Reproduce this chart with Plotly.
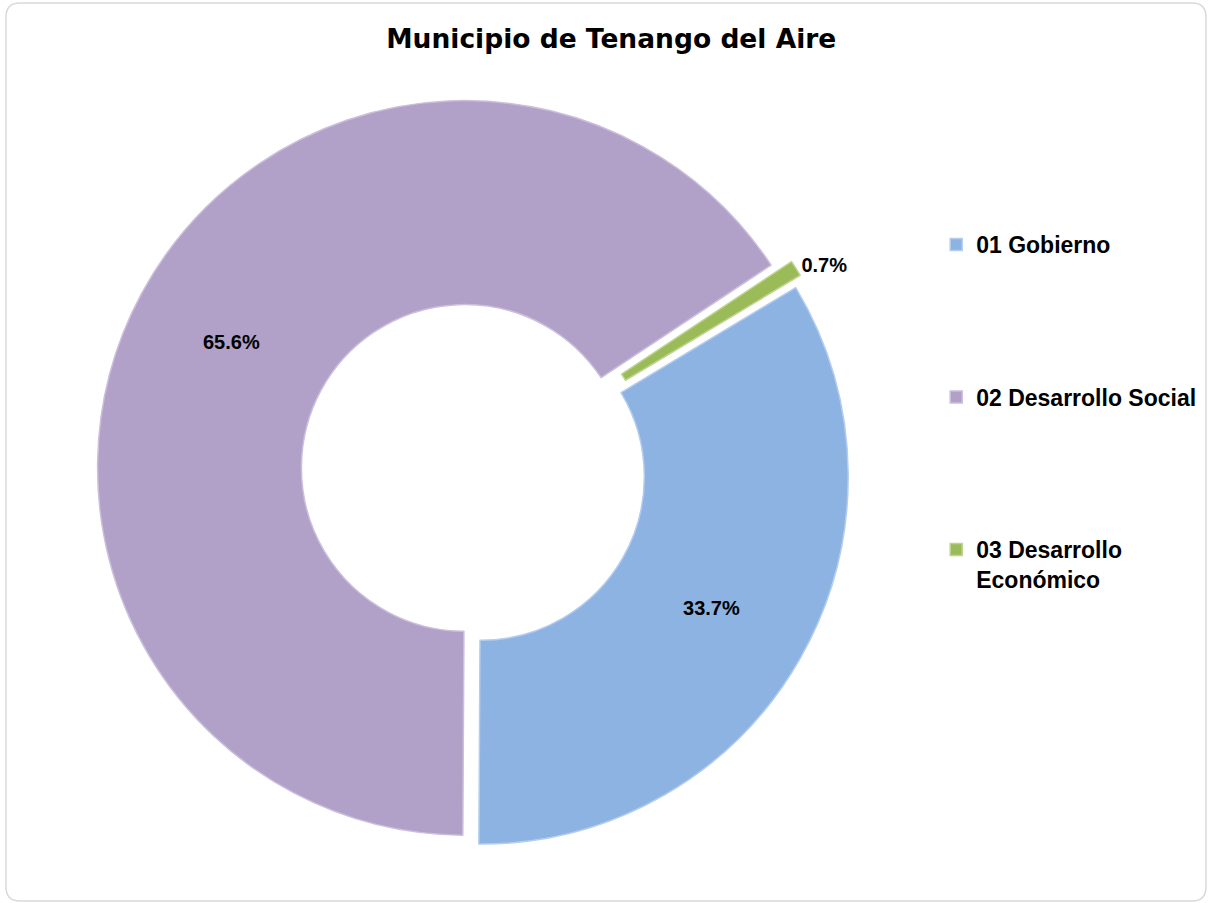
import plotly.graph_objects as go

categories = ["01 Gobierno", "02 Desarrollo Social", "03 Desarrollo<br>Económico"]
values = [33.7, 65.6, 0.7]
colors = ["#8db3e2", "#b1a0c7", "#9bbb59"]
edge_colors = ["#b4cdee", "#cbbfdc", "#bcd48e"]
pulls = [0.025, 0.025, 0.04]
text_positions = ["inside", "inside", "outside"]

PAD = "<br> " * 4
legend_labels = [c + PAD for c in categories]
clean_names = [c.replace("<br>", " ") for c in categories]

fig = go.Figure()
fig.add_trace(go.Pie(
    labels=legend_labels,
    values=values,
    customdata=clean_names,
    hole=0.445,
    sort=False,
    direction="clockwise",
    rotation=59,
    pull=pulls,
    marker=dict(colors=colors, line=dict(color=edge_colors, width=1.5)),
    texttemplate="%{percent:.1%}",
    textposition=text_positions,
    insidetextorientation="horizontal",
    textfont=dict(family="Liberation Sans", size=20, color="black", weight="bold"),
    hovertemplate="%{customdata}: %{percent:.1%}<extra></extra>",
    domain=dict(x=[0.075, 0.708], y=[0.054, 0.900]),
))

w, h = 1208, 903
x0, x1, y0, y1 = 6 / w, 1206 / w, 3 / h, 901 / h
rx, ry = 14 / w, 14 / h
path = (f"M {x0+rx},{1-y0} L {x1-rx},{1-y0} Q {x1},{1-y0} {x1},{1-y0-ry} "
        f"L {x1},{1-y1+ry} Q {x1},{1-y1} {x1-rx},{1-y1} "
        f"L {x0+rx},{1-y1} Q {x0},{1-y1} {x0},{1-y1+ry} "
        f"L {x0},{1-y0-ry} Q {x0},{1-y0} {x0+rx},{1-y0} Z")

fig.update_layout(
    width=w, height=h,
    paper_bgcolor="white", plot_bgcolor="white",
    margin=dict(l=0, r=0, t=0, b=0),
    title=dict(text="Municipio de Tenango del Aire", x=0.506, xanchor="center",
               y=0.957, yanchor="middle",
               font=dict(family="DejaVu Sans", size=26.5, color="black", weight="bold")),
    legend=dict(x=0.775, xanchor="left", y=0.753, yanchor="top",
                valign="top", itemwidth=30,
                font=dict(family="Liberation Sans", size=23, color="black", weight="bold"),
                bgcolor="rgba(0,0,0,0)"),
    shapes=[dict(type="path", path=path, xref="paper", yref="paper",
                 line=dict(color="#d9d9d9", width=1.5), layer="below")],
)

fig.write_html("out.html", config={"displayModeBar": False},
               post_script="document.body.style.margin='0';")
